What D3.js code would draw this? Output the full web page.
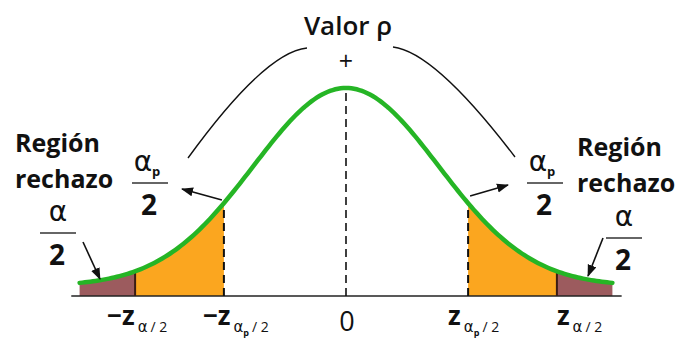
<!DOCTYPE html>
<html>
<head>
<meta charset="utf-8">
<script src="https://cdn.jsdelivr.net/npm/d3@7/dist/d3.min.js"></script>
<style>
  html, body { margin: 0; padding: 0; background: #fff; }
  svg { display: block; }
  text { font-family: "Open Sans", "Noto Sans", sans-serif; fill: #111; }
  .greek { font-family: "DejaVu Sans", sans-serif; }
</style>
</head>
<body>
<svg id="chart" width="692" height="340"></svg>
<script>
// Critical values (in standard units) that split the distribution
const criticalAlpha = [-2.28, 2.28];     // ±z_{α/2}
const criticalAlphaP = [-1.32, 1.32];    // ±z_{αp/2}
const curveRange = [-2.88, 2.88];        // extent of the drawn density
const axisRange = [-2.97, 2.98];         // extent of the horizontal axis
const curveFloor = 0.048;                // curve sits a little above the axis
const tickLabels = ["−z", "−z", "0", "z", "z"];

const svg = d3.select("#chart");

const x = d3.scaleLinear().domain([-1, 1]).range([346 - 92.5, 346 + 92.5]);
const y = d3.scaleLinear().domain([0, 1]).range([296, 88]);

// standard normal shape, scaled so the peak reaches 1
const density = z => curveFloor + (1 - curveFloor) * Math.exp(-z * z / 2);

function samples(a, b) {
  const n = 200, pts = [];
  for (let i = 0; i <= n; i++) { const z = a + (b - a) * i / n; pts.push([z, density(z)]); }
  return pts;
}

const area = d3.area().x(d => x(d[0])).y0(y(0)).y1(d => y(d[1]));
const line = d3.line().x(d => x(d[0])).y(d => y(d[1]));

const COL_TAIL = "#9c5b5e";
const COL_MID = "#fba61f";
const COL_CURVE = "#25b525";

// shaded regions
svg.append("path").attr("d", area(samples(curveRange[0], criticalAlpha[0]))).attr("fill", COL_TAIL);
svg.append("path").attr("d", area(samples(criticalAlpha[0], criticalAlphaP[0]))).attr("fill", COL_MID);
svg.append("path").attr("d", area(samples(criticalAlphaP[1], criticalAlpha[1]))).attr("fill", COL_MID);
svg.append("path").attr("d", area(samples(criticalAlpha[1], curveRange[1]))).attr("fill", COL_TAIL);

// horizontal axis
svg.append("line")
  .attr("x1", x(axisRange[0])).attr("x2", x(axisRange[1]))
  .attr("y1", y(0)).attr("y2", y(0))
  .attr("stroke", "#222").attr("stroke-width", 1.6);

// solid boundaries at ±z_{α/2}
criticalAlpha.forEach(z => {
  svg.append("line").attr("x1", x(z)).attr("x2", x(z))
    .attr("y1", y(0)).attr("y2", y(density(z)))
    .attr("stroke", "#3a1c14").attr("stroke-width", 2);
});
// dashed boundaries at ±z_{αp/2}
criticalAlphaP.forEach(z => {
  svg.append("line").attr("x1", x(z)).attr("x2", x(z))
    .attr("y1", y(0)).attr("y2", y(density(z)))
    .attr("stroke", "#111").attr("stroke-width", 2).attr("stroke-dasharray", "8,5");
});
// dashed centre line
svg.append("line").attr("x1", x(0)).attr("x2", x(0))
  .attr("y1", y(0)).attr("y2", y(density(0)))
  .attr("stroke", "#111").attr("stroke-width", 1.6).attr("stroke-dasharray", "8,5");

// the density curve
svg.append("path").attr("d", line(samples(curveRange[0], curveRange[1])))
  .attr("fill", "none").attr("stroke", COL_CURVE).attr("stroke-width", 4.5)
  .attr("stroke-linecap", "round");

// arrow marker
svg.append("defs").append("marker")
  .attr("id", "arrow").attr("viewBox", "0 0 12 10").attr("refX", 11).attr("refY", 5)
  .attr("markerWidth", 12).attr("markerHeight", 10).attr("markerUnits", "userSpaceOnUse")
  .attr("orient", "auto")
  .append("path").attr("d", "M0,0.5 L12,5 L0,9.5 Z").attr("fill", "#111");

function arrow(x1, y1, x2, y2) {
  svg.append("line").attr("x1", x1).attr("y1", y1).attr("x2", x2).attr("y2", y2)
    .attr("stroke", "#111").attr("stroke-width", 1.6).attr("marker-end", "url(#arrow)");
}
arrow(x(criticalAlphaP[0]) - 2, 200, 182, 189);
arrow(x(criticalAlphaP[1]) + 2, 196, 508, 185);
arrow(83, 242, 100, 279);
arrow(603, 238, 588, 276);

// arcs linking the p-value label to both tails
svg.append("path").attr("d", "M188,158 Q265,52 307,48")
  .attr("fill", "none").attr("stroke", "#111").attr("stroke-width", 1.4);
svg.append("path").attr("d", "M393,47 Q435,52 515,157")
  .attr("fill", "none").attr("stroke", "#111").attr("stroke-width", 1.4);

// title and plus sign
svg.append("text").attr("x", 348).attr("y", 35).attr("text-anchor", "middle")
  .style("font-size", "26px").style("font-weight", 600).text("Valor ρ");
svg.append("text").attr("x", 346).attr("y", 70).attr("text-anchor", "middle")
  .style("font-size", "25px").style("font-weight", 400).text("+");

// rejection region captions
function caption(x0, y0) {
  const t = svg.append("text").attr("x", x0).attr("y", y0)
    .style("font-size", "25px").style("font-weight", 700);
  t.append("tspan").attr("x", x0).text("Región");
  t.append("tspan").attr("x", x0).attr("dy", 36).text("rechazo");
}
caption(15, 152);
caption(577, 156);

// fraction α/2 or αp/2
function fraction(cx, lineY, withP) {
  const t = svg.append("text").attr("x", withP ? cx - 3 : cx).attr("y", lineY - 12)
    .attr("text-anchor", "middle");
  t.append("tspan").attr("class", "greek").style("font-size", "28px").text("α");
  if (withP) {
    t.append("tspan").attr("dy", 5).style("font-size", "13px").style("font-weight", 700).text("p");
  }
  svg.append("line").attr("x1", cx - 18).attr("x2", cx + 18).attr("y1", lineY).attr("y2", lineY)
    .attr("stroke", "#333").attr("stroke-width", 1.6);
  svg.append("text").attr("x", cx - 1).attr("y", lineY + 32).attr("text-anchor", "middle")
    .style("font-size", "28px").style("font-weight", 700).text("2");
}
fraction(150, 183, true);
fraction(545, 183, true);
fraction(58, 233, false);
fraction(624, 238, false);

// tick labels beneath the axis
const ticks = [
  { v: criticalAlpha[0], dx: -28, label: tickLabels[0], sub: "α", p: false },
  { v: criticalAlphaP[0], dx: -21, label: tickLabels[1], sub: "α", p: true },
  { v: 0, dx: 0, label: tickLabels[2] },
  { v: criticalAlphaP[1], dx: -20, label: tickLabels[3], sub: "α", p: true },
  { v: criticalAlpha[1], dx: 0, label: tickLabels[4], sub: "α", p: false }
];
ticks.forEach(d => {
  if (!d.sub) {
    svg.append("text").attr("x", x(d.v) + 1).attr("y", 331).attr("text-anchor", "middle")
      .style("font-size", "27px").text(d.label);
    return;
  }
  const t = svg.append("text").attr("x", x(d.v) + d.dx).attr("y", 325)
    .style("font-size", "26px").style("font-weight", 700);
  t.append("tspan").text(d.label);
  t.append("tspan").attr("dx", 3).attr("dy", 7).attr("class", "greek")
    .style("font-size", "15px").style("font-weight", 400).text(d.sub);
  if (d.p) {
    t.append("tspan").attr("dy", 4).style("font-size", "9px").text("p");
    t.append("tspan").attr("dx", 3).attr("dy", -4).style("font-size", "14px").style("font-weight", 400).text("/ 2");
  } else {
    t.append("tspan").attr("dx", 3).style("font-size", "14px").style("font-weight", 400).text("/ 2");
  }
});
</script>
</body>
</html>
